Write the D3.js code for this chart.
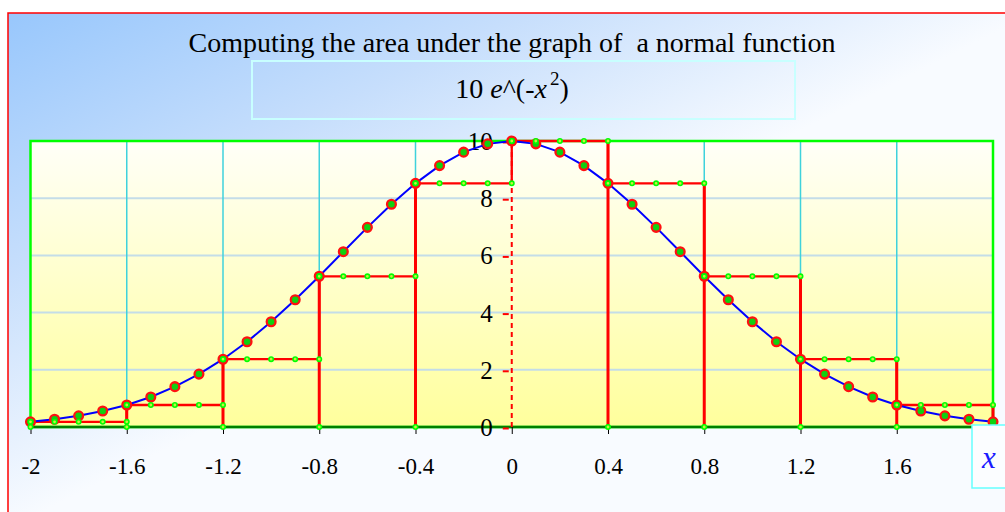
<!DOCTYPE html>
<html>
<head>
<meta charset="utf-8">
<script src="https://cdn.jsdelivr.net/npm/d3@7"></script>
<style>
  html, body { margin: 0; padding: 0; background: #ffffff; }
  svg { display: block; }
  text { font-family: "Liberation Serif", "Times New Roman", serif; white-space: pre; }
</style>
</head>
<body>
<svg id="chart" width="1005" height="512"></svg>
<script>
// Sample points of y = 10 e^(-x^2), step 0.1
const sampleX = [-2, -1.9, -1.8, -1.7, -1.6, -1.5, -1.4, -1.3, -1.2, -1.1, -1, -0.9, -0.8, -0.7, -0.6, -0.5, -0.4, -0.3, -0.2, -0.1,
                 0, 0.1, 0.2, 0.3, 0.4, 0.5, 0.6, 0.7, 0.8, 0.9, 1, 1.1, 1.2, 1.3, 1.4, 1.5, 1.6, 1.7, 1.8, 1.9, 2];
const sampleY = [0.18, 0.27, 0.39, 0.56, 0.77, 1.05, 1.41, 1.85, 2.37, 2.98, 3.68, 4.45, 5.27, 6.13, 6.98, 7.79, 8.52, 9.14, 9.61, 9.90,
                 10, 9.90, 9.61, 9.14, 8.52, 7.79, 6.98, 6.13, 5.27, 4.45, 3.68, 2.98, 2.37, 1.85, 1.41, 1.05, 0.77, 0.56, 0.39, 0.27, 0.18];

// Rectangles of the area sum (left end point height)
const rectLeft   = [-2, -1.6, -1.2, -0.8, -0.4, 0, 0.4, 0.8, 1.2, 1.6];
const rectRight  = [-1.6, -1.2, -0.8, -0.4, 0, 0.4, 0.8, 1.2, 1.6, 2];
const rectHeight = [0.18, 0.77, 2.37, 5.27, 8.52, 10, 8.52, 5.27, 2.37, 0.77];

// Axis ticks
const xTickValues = [-2, -1.6, -1.2, -0.8, -0.4, 0, 0.4, 0.8, 1.2, 1.6, 2];
const xTickLabels = ["-2", "-1.6", "-1.2", "-0.8", "-0.4", "0", "0.4", "0.8", "1.2", "1.6", ""];
const xGridValues = [-1.6, -1.2, -0.8, -0.4, 0.4, 0.8, 1.2, 1.6];
const yTickValues = [0, 2, 4, 6, 8, 10];
const yTickLabels = ["0", "2", "4", "6", "8", "10"];
const yGridValues = [2, 4, 6, 8];

const titleText = "Computing the area under the graph of  a normal function";

const svg = d3.select("#chart");
const defs = svg.append("defs");

const bg = defs.append("linearGradient").attr("id", "bgGrad")
  .attr("gradientUnits", "userSpaceOnUse")
  .attr("x1", 8).attr("y1", 13).attr("x2", 215).attr("y2", 425);
bg.append("stop").attr("offset", 0).attr("stop-color", "#98c7fc");
bg.append("stop").attr("offset", 0.5).attr("stop-color", "#c6defc");
bg.append("stop").attr("offset", 1).attr("stop-color", "#f8fbff");

const pg = defs.append("linearGradient").attr("id", "plotGrad")
  .attr("x1", 0).attr("y1", 0).attr("x2", 0).attr("y2", 1);
pg.append("stop").attr("offset", 0).attr("stop-color", "#fffff8");
pg.append("stop").attr("offset", 1).attr("stop-color", "#ffff9c");

// Outer frame
svg.append("rect")
  .attr("x", 8).attr("y", 13).attr("width", 1100).attr("height", 600)
  .attr("fill", "url(#bgGrad)")
  .attr("stroke", "#ff0000").attr("stroke-width", 1.5);

const x = d3.scaleLinear().domain([-2, 2]).range([30.5, 993]);
const y = d3.scaleLinear().domain([0, 10]).range([427, 141]);

// Title
svg.append("text")
  .attr("x", 512).attr("y", 52)
  .attr("text-anchor", "middle")
  .attr("font-size", 28)
  .attr("fill", "#000")
  .text(titleText);

// Formula box
svg.append("rect")
  .attr("x", 252).attr("y", 61).attr("width", 543).attr("height", 58)
  .attr("fill", "none").attr("stroke", "#c8ffff").attr("stroke-width", 2);

const formula = svg.append("text")
  .attr("x", 512).attr("y", 98)
  .attr("text-anchor", "middle")
  .attr("font-size", 28)
  .attr("fill", "#000");
formula.append("tspan").text("10 ");
formula.append("tspan").attr("font-style", "italic").text("e");
formula.append("tspan").text("^(-");
formula.append("tspan").attr("font-style", "italic").text("x");
formula.append("tspan").attr("dy", -13).attr("dx", 3).attr("font-size", 19).text("2");
formula.append("tspan").attr("dy", 13).text(")");

// Plot background
const [x0, x1] = x.range();
const [yb, yt] = y.range();
svg.append("rect")
  .attr("x", x0).attr("y", yt).attr("width", x1 - x0).attr("height", yb - yt)
  .attr("fill", "url(#plotGrad)");

// Grid lines
svg.append("g").selectAll("line").data(yGridValues).join("line")
  .attr("x1", x0).attr("x2", x1)
  .attr("y1", d => y(d)).attr("y2", d => y(d))
  .attr("stroke", "#c4dde8").attr("stroke-width", 2);
svg.append("g").selectAll("line").data(xGridValues).join("line")
  .attr("x1", d => x(d)).attr("x2", d => x(d))
  .attr("y1", yt).attr("y2", yb)
  .attr("stroke", "#3fd2dc").attr("stroke-width", 1.5);

// Plot border
svg.append("rect")
  .attr("x", x0).attr("y", yt).attr("width", x1 - x0).attr("height", yb - yt)
  .attr("fill", "none").attr("stroke", "#00ff00").attr("stroke-width", 2.5);

// x axis line
svg.append("line")
  .attr("x1", x0).attr("x2", x1).attr("y1", yb).attr("y2", yb)
  .attr("stroke", "#008000").attr("stroke-width", 2.5);

// x axis ticks and labels
const xAxis = d3.axisBottom(x)
  .tickValues(xTickValues)
  .tickSize(7)
  .tickFormat((d, i) => xTickLabels[i]);
const gx = svg.append("g").attr("transform", `translate(0,${yb})`).call(xAxis);
gx.select(".domain").remove();
gx.selectAll(".tick line").attr("stroke", "#000").attr("stroke-width", 1);
gx.selectAll(".tick text")
  .attr("font-size", 23).attr("fill", "#000").attr("dy", 0).attr("y", 47);

// y axis: dashed line at x = 0 with ticks and labels
const xz = x(0);
svg.append("line")
  .attr("x1", xz).attr("x2", xz).attr("y1", y(0)).attr("y2", y(10))
  .attr("stroke", "#ff0000").attr("stroke-width", 2)
  .attr("stroke-dasharray", "5,4");
const yAxis = d3.axisLeft(y)
  .tickValues(yTickValues)
  .tickSize(0)
  .tickPadding(19)
  .tickFormat((d, i) => yTickLabels[i]);
const gy = svg.append("g").attr("transform", `translate(${xz},0)`).call(yAxis);
gy.select(".domain").remove();
gy.selectAll(".tick").append("line")
  .attr("x1", -9).attr("x2", -3).attr("y1", 1).attr("y2", 1)
  .attr("stroke", "#ff0000").attr("stroke-width", 2);
gy.selectAll(".tick text")
  .attr("font-size", 25).attr("fill", "#000").attr("dy", "0.34em");

// Rectangles: staircase along the tops, sides down to the axis
const rects = rectLeft.map((l, i) => ({ l, r: rectRight[i], h: rectHeight[i] }));
const stair = d3.path();
rects.forEach((d, i) => {
  if (i === 0) stair.moveTo(x(d.l), y(d.h));
  else stair.lineTo(x(d.l), y(d.h));
  stair.lineTo(x(d.r), y(d.h));
});
svg.append("path").attr("d", stair.toString())
  .attr("fill", "none").attr("stroke", "#ff0000").attr("stroke-width", 2.3);

// Side edges: left half uses the left side, right half uses the right side
const sides = rects.map(d => ({ xs: d.l < 0 ? d.l : d.r, h: d.h }));
svg.append("g").selectAll("line").data(sides).join("line")
  .attr("x1", d => x(d.xs)).attr("x2", d => x(d.xs))
  .attr("y1", y(0)).attr("y2", d => y(d.h))
  .attr("stroke", "#ff0000").attr("stroke-width", 3);

// Curve
const line = d3.line().x((d, i) => x(sampleX[i])).y(d => y(d));
svg.append("path").datum(sampleY).attr("d", line)
  .attr("fill", "none").attr("stroke", "#0000ff").attr("stroke-width", 2);

// Curve points
svg.append("g").selectAll("circle").data(sampleY).join("circle")
  .attr("cx", (d, i) => x(sampleX[i])).attr("cy", d => y(d))
  .attr("r", 4.4)
  .attr("fill", "#10d010").attr("stroke", "#ff1010").attr("stroke-width", 2.3);

// Small dots along rectangle tops and at the foot of each side
const topDots = [];
rects.forEach(d => {
  sampleX.forEach(sx => {
    if (sx >= d.l - 1e-9 && sx <= d.r + 1e-9) topDots.push({ px: sx, h: d.h });
  });
});
const footDots = sides.map(d => ({ px: d.xs, h: 0 }));
svg.append("g").selectAll("circle").data(topDots.concat(footDots)).join("circle")
  .attr("cx", d => x(d.px)).attr("cy", d => y(d.h))
  .attr("r", 2.2)
  .attr("fill", "#c8f040").attr("stroke", "#00ff00").attr("stroke-width", 1.6);

// x axis title box
svg.append("rect")
  .attr("x", 972).attr("y", 425).attr("width", 60).attr("height", 63)
  .attr("fill", "#fbfdff").attr("stroke", "#66ffff").attr("stroke-width", 1.5);
svg.append("text")
  .attr("x", 982).attr("y", 468)
  .attr("font-size", 31).attr("font-style", "italic")
  .attr("fill", "#1a1aff")
  .text("x");
</script>
</body>
</html>
